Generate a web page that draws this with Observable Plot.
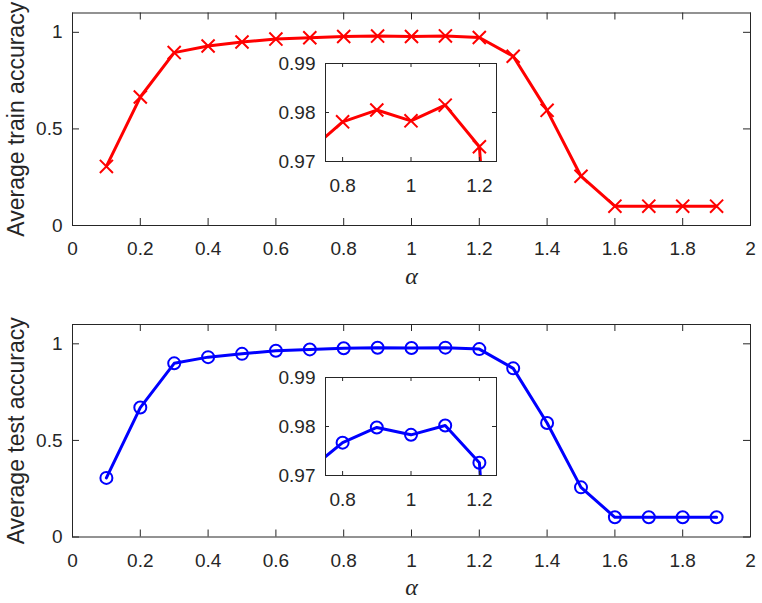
<!DOCTYPE html>
<html>
<head>
<meta charset="utf-8">
<script src="https://cdn.jsdelivr.net/npm/d3@7"></script>
<script src="https://cdn.jsdelivr.net/npm/@observablehq/plot@0.6"></script>
<style>
  html, body { margin: 0; padding: 0; background: #fff; }
  #fig { position: relative; width: 762px; height: 603px; background: #fff; }
  #fig svg { position: absolute; }
</style>
</head>
<body>
<div id="fig"></div>
<script>
// α values on the horizontal axis
const alpha = [0.1, 0.2, 0.3, 0.4, 0.5, 0.6, 0.7, 0.8, 0.9, 1.0, 1.1, 1.2, 1.3, 1.4, 1.5, 1.6, 1.7, 1.8, 1.9];
// average accuracies for each α
const trainAcc = [0.306, 0.665, 0.895, 0.929, 0.950, 0.965, 0.972, 0.9781, 0.9805, 0.9783, 0.9815, 0.9730, 0.876, 0.596, 0.255, 0.100, 0.100, 0.100, 0.100];
const testAcc  = [0.306, 0.670, 0.899, 0.931, 0.948, 0.964, 0.971, 0.9767, 0.9798, 0.9783, 0.9802, 0.9726, 0.873, 0.590, 0.257, 0.102, 0.102, 0.102, 0.102];

// tick values and labels
const mainXTicks = [0, 0.2, 0.4, 0.6, 0.8, 1, 1.2, 1.4, 1.6, 1.8, 2];
const mainXLabels = ["0", "0.2", "0.4", "0.6", "0.8", "1", "1.2", "1.4", "1.6", "1.8", "2"];
const mainYTicks = [0, 0.5, 1];
const mainYLabels = ["0", "0.5", "1"];
const insetXTicks = [0.8, 1, 1.2];
const insetXLabels = ["0.8", "1", "1.2"];
const insetYTicks = [0.97, 0.98, 0.99];
const insetYLabels = ["0.97", "0.98", "0.99"];

const panels = [
  { values: trainAcc, color: "#ff0000", symbol: "times", ylabel: "Average train accuracy", top: 0, marginTop: 12.5, height: 300, insetTop: 62.5 },
  { values: testAcc, color: "#0000ff", symbol: "circle", ylabel: "Average test accuracy", top: 300, marginTop: 24, height: 303, insetTop: 377 }
];

const INK = "#262626";
const FONT = "'Liberation Sans', Arial, Helvetica, sans-serif";
const fig = document.getElementById("fig");

// inward tick marks on all four sides of a frame
function boxTicks(xt, yt, fw, fh, len) {
  return [
    Plot.tickX(xt, { x: d => d, insetTop: fh - len, stroke: INK }),
    Plot.tickX(xt, { x: d => d, insetBottom: fh - len, stroke: INK }),
    Plot.tickY(yt, { y: d => d, insetRight: fw - len, stroke: INK }),
    Plot.tickY(yt, { y: d => d, insetLeft: fw - len, stroke: INK })
  ];
}

function seriesMarks(p, clip) {
  const data = alpha.map((a, i) => ({ a, v: p.values[i] }));
  return [
    Plot.line(data, { x: "a", y: "v", stroke: p.color, strokeWidth: 3, clip }),
    Plot.dot(data, {
      x: "a", y: "v", stroke: p.color, strokeWidth: 2, r: 6,
      symbol: p.symbol, fill: "none", clip
    })
  ];
}

for (const p of panels) {
  const mL = 72, mR = 12, mT = p.marginTop;
  const mB = p.height - mT - 212.5;
  const fw = 762 - mL - mR, fh = p.height - mT - mB;

  const main = Plot.plot({
    width: 762, height: p.height,
    marginLeft: mL, marginRight: mR, marginTop: mT, marginBottom: mB,
    x: { domain: [0, 2], axis: null },
    y: { domain: [0, 1.1], axis: null },
    style: { background: "transparent", color: INK, fontFamily: FONT, fontSize: "19px", overflow: "visible" },
    marks: [
      Plot.frame({ stroke: INK, strokeWidth: 1 }),
      ...boxTicks(mainXTicks, mainYTicks, fw, fh, 7),
      Plot.axisX(mainXTicks, { anchor: "bottom", tickSize: 0, tickPadding: 16, tickFormat: (d, i) => mainXLabels[i], label: null, fontSize: 19 }),
      Plot.axisY(mainYTicks, { anchor: "left", tickSize: 0, tickPadding: 10, tickFormat: (d, i) => mainYLabels[i], label: null, fontSize: 19 }),
      ...seriesMarks(p, false),
      Plot.text([p.ylabel], {
        text: d => d, frameAnchor: "left", textAnchor: "middle", lineAnchor: "middle",
        dx: -56, rotate: -90, fontSize: 23, fill: INK
      }),
      Plot.text(["α"], {
        text: d => d, frameAnchor: "bottom", textAnchor: "middle", dy: 58, fontSize: 24,
        fontStyle: "italic", fontFamily: "'Liberation Serif', 'DejaVu Serif', serif", fill: INK
      })
    ]
  });
  main.style.left = "0px";
  main.style.top = p.top + "px";
  fig.appendChild(main);

  // zoomed view of the plateau around α = 1
  const iL = 55, iR = 10, iT = 10, iB = 35;
  const iw = 171, ih = 98;
  const inset = Plot.plot({
    width: iL + iw + iR, height: iT + ih + iB,
    marginLeft: iL, marginRight: iR, marginTop: iT, marginBottom: iB,
    x: { domain: [0.75, 1.25], axis: null },
    y: { domain: [0.97, 0.99], axis: null },
    style: { background: "transparent", color: INK, fontFamily: FONT, fontSize: "19px", overflow: "visible" },
    marks: [
      Plot.frame({ fill: "white" }),
      ...seriesMarks(p, true),
      Plot.frame({ stroke: INK, strokeWidth: 1 }),
      ...boxTicks(insetXTicks, insetYTicks, iw, ih, 4),
      Plot.axisX(insetXTicks, { anchor: "bottom", tickSize: 0, tickPadding: 17, tickFormat: (d, i) => insetXLabels[i], label: null, fontSize: 19 }),
      Plot.axisY(insetYTicks, { anchor: "left", tickSize: 0, tickPadding: 10, tickFormat: (d, i) => insetYLabels[i], label: null, fontSize: 19 })
    ]
  });
  inset.style.left = (325 - iL) + "px";
  inset.style.top = (p.insetTop - iT) + "px";
  fig.appendChild(inset);
}
</script>
</body>
</html>
